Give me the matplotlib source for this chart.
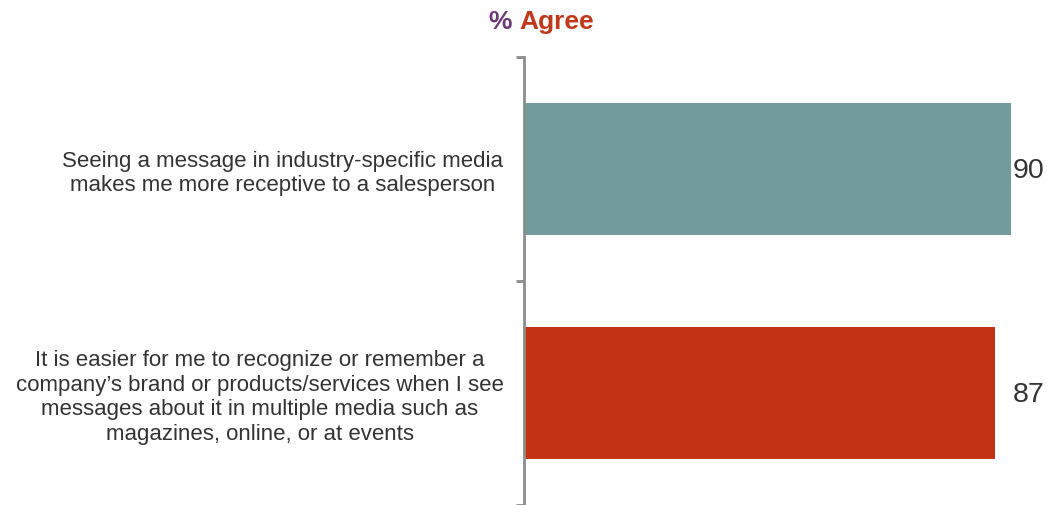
import matplotlib.pyplot as plt
import matplotlib.transforms as mtransforms

plt.rcParams['font.family'] = ['Liberation Sans', 'DejaVu Sans']

# data
labels = ['Seeing a message in industry-specific media\nmakes me more receptive to a salesperson',
          'It is easier for me to recognize or remember a\ncompany\u2019s brand or products/services when I see\nmessages about it in multiple media such as\nmagazines, online, or at events']
values = [90, 87]
colors = ['#729B9B', '#C33214']

fig = plt.figure(figsize=(10.47, 5.05), dpi=100)
ax = fig.add_axes([524 / 1047, 0.0, 1 - 524 / 1047, 1 - 57 / 505])

pos = list(range(len(values)))
ax.barh(pos, values, height=0.59, color=colors, left=0)
ax.set_xlim(0.2, 96.6)
ax.set_ylim(len(values) - 0.5, -0.5)

# value labels, all lined up just past the longest bar
lab_x = max(values) + 0.3
for p, v in zip(pos, values):
    ax.text(lab_x, p + 0.01, str(v), va='center', ha='left', fontsize=20.5, color='#333333')

# category labels, centered to the left of the axis
trans = mtransforms.blended_transform_factory(fig.transFigure, ax.transData)
label_x = [283 / 1047, 260 / 1047]
for p, lab, lx in zip(pos, labels, label_x):
    ax.text(lx, p + 0.02, lab, transform=trans, ha='center', va='center',
            fontsize=16, color='#333333', linespacing=1.22,
            multialignment='center')

# axis styling
for s in ['top', 'right', 'bottom']:
    ax.spines[s].set_visible(False)
ax.spines['left'].set_color('#8C8C8C')
ax.spines['left'].set_linewidth(2)
ax.set_yticks([-0.5, 0.5, 1.5])
ax.set_yticklabels([])
ax.tick_params(axis='y', direction='out', length=6, width=2, color='#8C8C8C')
ax.set_xticks([])
ax.patch.set_visible(False)

# title in two colours
fig.text(488 / 1047, 1 - 22 / 505, '%', color='#6B3A73', fontsize=19, fontweight='bold',
         ha='left', va='center')
fig.text(519 / 1047, 1 - 22 / 505, 'Agree', color='#C0391B', fontsize=19, fontweight='bold',
         ha='left', va='center')

fig.savefig('out.png', dpi=100)
